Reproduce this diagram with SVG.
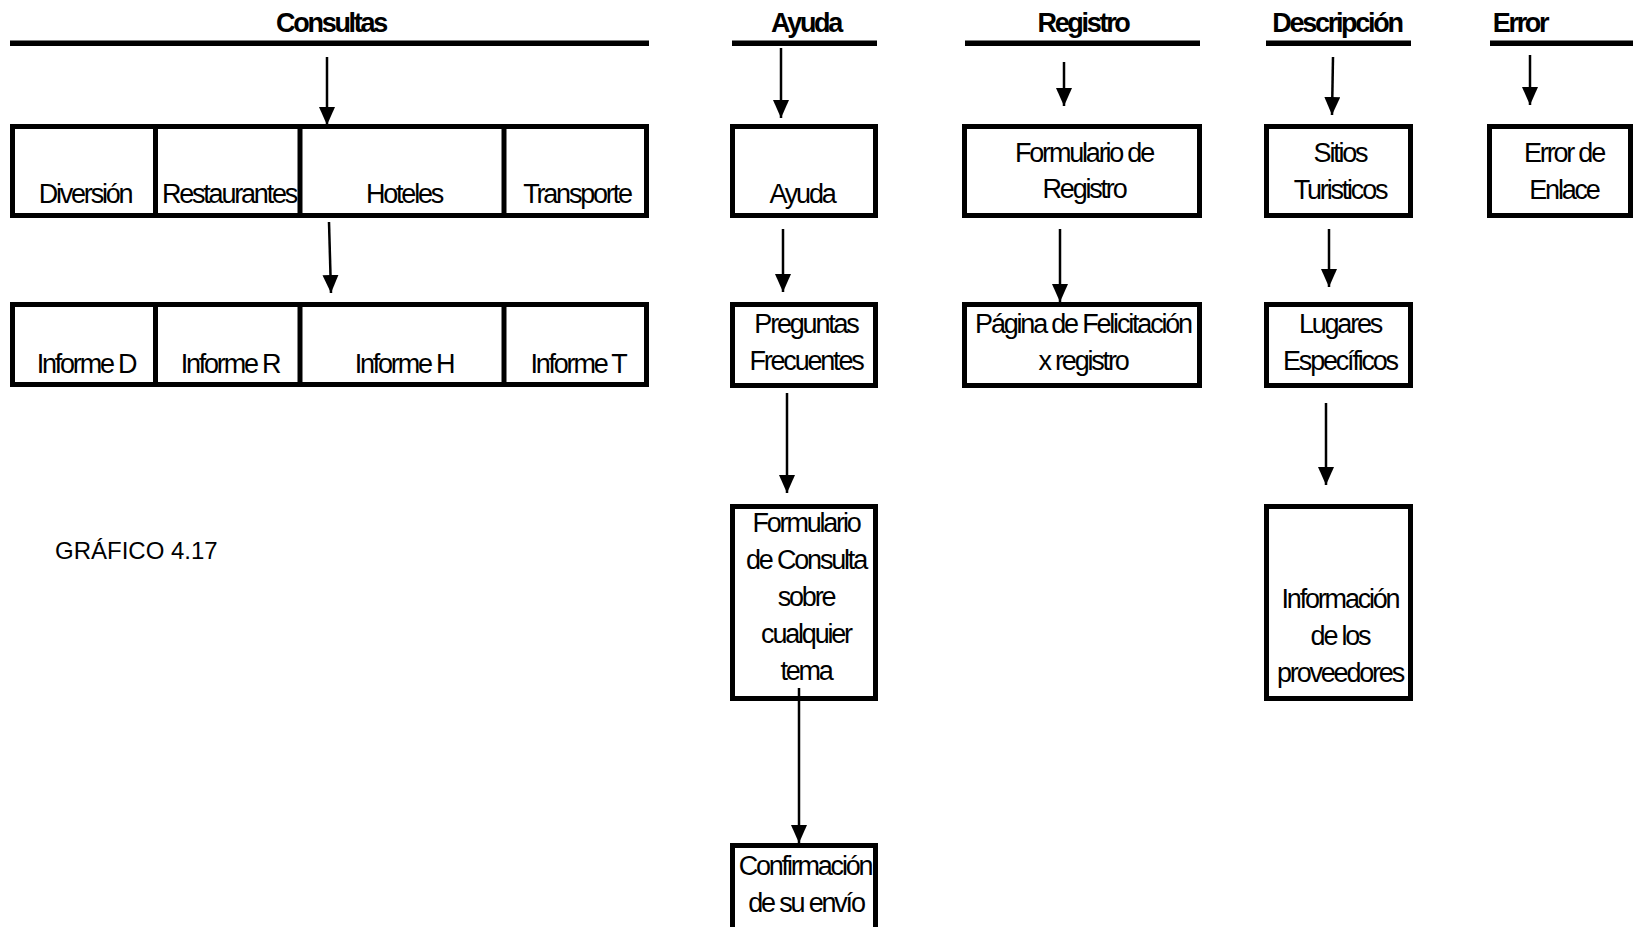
<svg xmlns="http://www.w3.org/2000/svg" width="1633" height="927" viewBox="0 0 1633 927">
<style>
.hdr{font-family:"Liberation Sans",Arial,sans-serif;font-weight:bold;font-size:27px;letter-spacing:-2.3px;fill:#000;text-anchor:middle}
.t{font-family:"Liberation Sans",Arial,sans-serif;font-size:27px;letter-spacing:-2.2px;fill:#000;text-anchor:middle}
.bar{fill:#000}
.box{fill:none;stroke:#000;stroke-width:5}
.div{stroke:#000;stroke-width:5}
.con{stroke:#000;stroke-width:2.5;fill:none;marker-end:url(#ah)}
.cap{font-family:"Liberation Sans",Arial,sans-serif;font-size:24px;fill:#000}
</style>
<defs>
<marker id="ah" markerUnits="userSpaceOnUse" markerWidth="18" markerHeight="16" viewBox="0 0 18 16" refX="18" refY="8" orient="auto">
<path d="M0,0 L18,8 L0,16 Z" fill="#000"/>
</marker>
</defs>
<rect width="1633" height="927" fill="#fff"/>

<g id="hdr-consultas">
<text class="hdr" x="331" y="32">Consultas</text>
<rect class="bar" x="10" y="40.5" width="639" height="5.5"/>
</g>
<g id="hdr-ayuda">
<text class="hdr" x="806" y="32">Ayuda</text>
<rect class="bar" x="732" y="40.5" width="145" height="5.5"/>
</g>
<g id="hdr-registro">
<text class="hdr" x="1083" y="32">Registro</text>
<rect class="bar" x="965" y="40.5" width="235" height="5.5"/>
</g>
<g id="hdr-descripcion">
<text class="hdr" x="1337" y="32">Descripción</text>
<rect class="bar" x="1266" y="40.5" width="145" height="5.5"/>
</g>
<g id="hdr-error">
<text class="hdr" x="1520" y="32">Error</text>
<rect class="bar" x="1490" y="40.5" width="143" height="5.5"/>
</g>

<g id="consultas-row1">
<rect class="box" x="12.5" y="126.5" width="634" height="89"/>
<line class="div" x1="155.5" y1="124" x2="155.5" y2="218"/>
<line class="div" x1="300" y1="124" x2="300" y2="218"/>
<line class="div" x1="504" y1="124" x2="504" y2="218"/>
<text class="t" x="85" y="203">Diversión</text>
<text class="t" x="229" y="203">Restaurantes</text>
<text class="t" x="404" y="203">Hoteles</text>
<text class="t" x="577" y="203">Transporte</text>
</g>
<g id="consultas-row2">
<rect class="box" x="12.5" y="304.5" width="634" height="80"/>
<line class="div" x1="155.5" y1="302" x2="155.5" y2="387"/>
<line class="div" x1="300" y1="302" x2="300" y2="387"/>
<line class="div" x1="504" y1="302" x2="504" y2="387"/>
<text class="t" x="86" y="373">Informe D</text>
<text class="t" x="230" y="373">Informe R</text>
<text class="t" x="404" y="373">Informe H</text>
<text class="t" x="578" y="373">Informe T</text>
</g>

<g id="n-ayuda">
<rect class="box" x="732.5" y="126.5" width="143" height="89"/>
<text class="t" x="802" y="203">Ayuda</text>
</g>
<g id="n-preguntas">
<rect class="box" x="732.5" y="304.5" width="143" height="81"/>
<text class="t" x="806" y="333">Preguntas</text>
<text class="t" x="806" y="370">Frecuentes</text>
</g>
<g id="n-formconsulta">
<rect class="box" x="732.5" y="506.5" width="143" height="192"/>
<text class="t" x="806" y="532">Formulario</text>
<text class="t" x="806" y="569">de Consulta</text>
<text class="t" x="806" y="606">sobre</text>
<text class="t" x="806" y="643">cualquier</text>
<text class="t" x="806" y="680">tema</text>
</g>
<g id="n-confirmacion">
<rect class="box" x="732.5" y="845.5" width="143" height="86"/>
<text class="t" x="805" y="875">Confirmación</text>
<text class="t" x="806" y="912">de su envío</text>
</g>

<g id="n-formregistro">
<rect class="box" x="964.5" y="126.5" width="235" height="89"/>
<text class="t" x="1084" y="162">Formulario de</text>
<text class="t" x="1084" y="198">Registro</text>
</g>
<g id="n-felicitacion">
<rect class="box" x="964.5" y="304.5" width="235" height="81"/>
<text class="t" x="1083" y="333">Página de Felicitación</text>
<text class="t" x="1083" y="370">x registro</text>
</g>

<g id="n-sitios">
<rect class="box" x="1266.5" y="126.5" width="144" height="89"/>
<text class="t" x="1340" y="162">Sitios</text>
<text class="t" x="1340" y="199">Turisticos</text>
</g>
<g id="n-lugares">
<rect class="box" x="1266.5" y="304.5" width="144" height="81"/>
<text class="t" x="1340" y="333">Lugares</text>
<text class="t" x="1340" y="370">Específicos</text>
</g>
<g id="n-informacion">
<rect class="box" x="1266.5" y="506.5" width="144" height="192"/>
<text class="t" x="1340" y="608">Información</text>
<text class="t" x="1340" y="645">de los</text>
<text class="t" x="1340" y="682">proveedores</text>
</g>

<g id="n-errorenlace">
<rect class="box" x="1489.5" y="126.5" width="141" height="89"/>
<text class="t" x="1564" y="162">Error de</text>
<text class="t" x="1564" y="199">Enlace</text>
</g>

<g id="connectors">
<line class="con" x1="327" y1="57" x2="327" y2="125"/>
<line class="con" x1="329" y1="222" x2="331" y2="293"/>
<line class="con" x1="781" y1="48" x2="781" y2="118"/>
<line class="con" x1="783" y1="229" x2="783" y2="292"/>
<line class="con" x1="787" y1="393" x2="787" y2="493"/>
<line class="con" x1="799" y1="688" x2="799" y2="843"/>
<line class="con" x1="1064" y1="62" x2="1064" y2="106"/>
<line class="con" x1="1060" y1="229" x2="1060" y2="302"/>
<line class="con" x1="1333" y1="57" x2="1332" y2="115"/>
<line class="con" x1="1329" y1="229" x2="1329" y2="287"/>
<line class="con" x1="1326" y1="403" x2="1326" y2="485"/>
<line class="con" x1="1530" y1="55" x2="1530" y2="105"/>
</g>

<text class="cap" x="55" y="559">GRÁFICO 4.17</text>
</svg>
